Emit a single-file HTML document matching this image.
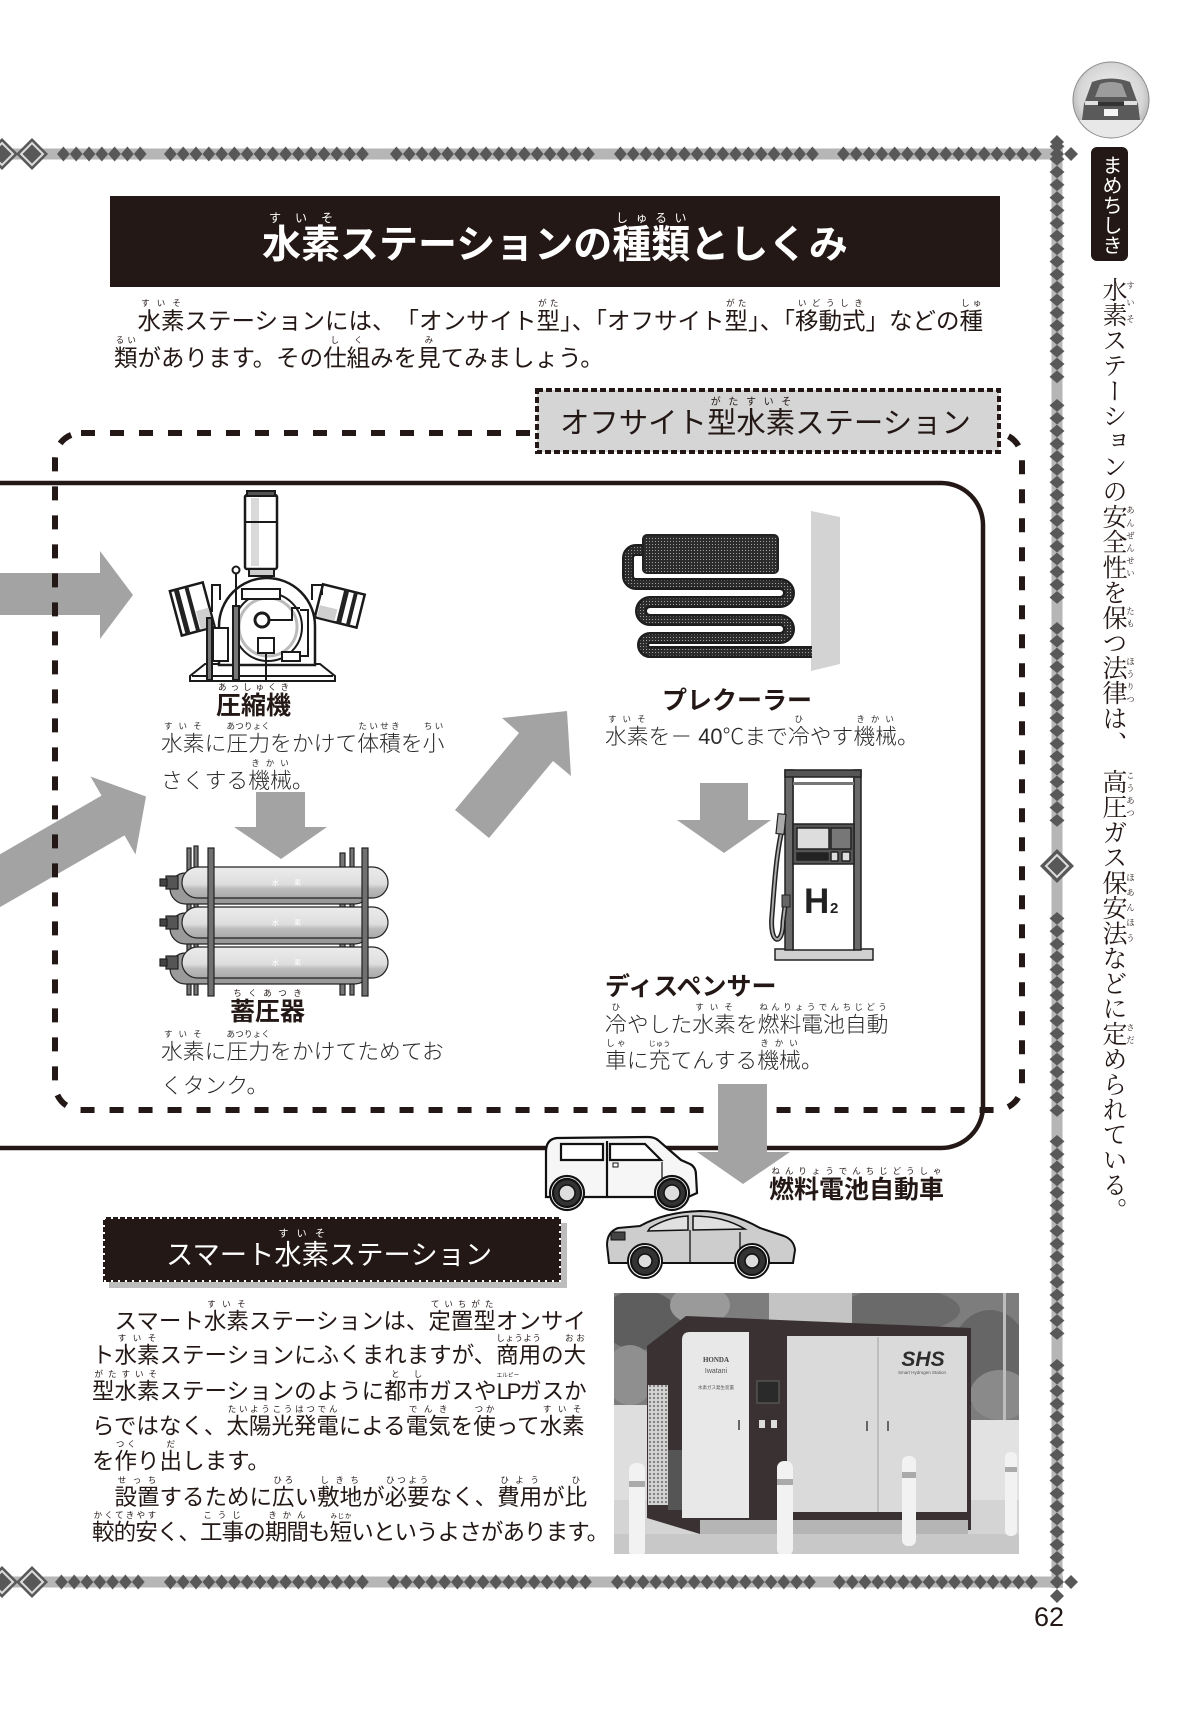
<!DOCTYPE html>
<html lang="ja">
<head>
<meta charset="utf-8">
<style>
html,body{margin:0;padding:0;background:#fff;}
#pg{position:relative;width:1182px;height:1733px;overflow:hidden;background:#fff;}
svg{position:absolute;left:0;top:0;}
.t{position:absolute;white-space:nowrap;font-family:"Liberation Sans","Noto Sans CJK JP",sans-serif;color:#231815;text-spacing-trim:space-all;text-autospace:no-autospace;}
.b{font-weight:bold;}
.l{font-weight:300;color:#2a2a2a;}
rt{font-size:8.5px;line-height:1;font-weight:normal;}
.v{position:absolute;writing-mode:vertical-rl;white-space:nowrap;text-spacing-trim:space-all;}
</style>
</head>
<body>
<div id="pg">
<svg width="1182" height="1733" viewBox="0 0 1182 1733" xmlns="http://www.w3.org/2000/svg">
<defs>
<pattern id="dt" patternUnits="userSpaceOnUse" x="0" y="146.5" width="12.8" height="15"><polygon points="6.4,0 12.8,7.5 6.4,15 0,7.5" fill="#585858"/></pattern>
<pattern id="db" patternUnits="userSpaceOnUse" x="0" y="1574.5" width="12.8" height="15"><polygon points="6.4,0 12.8,7.5 6.4,15 0,7.5" fill="#585858"/></pattern>
<pattern id="dv" patternUnits="userSpaceOnUse" x="1049.5" y="0" width="15" height="12.8"><polygon points="7.5,0 15,6.4 7.5,12.8 0,6.4" fill="#585858"/></pattern>
<pattern id="dots" patternUnits="userSpaceOnUse" width="3" height="3"><rect width="3" height="3" fill="#2c2c2c"/><rect x="1" y="1" width="1" height="1" fill="#a0a0a0"/></pattern>
<pattern id="mesh" patternUnits="userSpaceOnUse" width="4" height="4"><rect width="4" height="4" fill="#d2d2d2"/><circle cx="2" cy="2" r="1" fill="#6a6a6a"/></pattern>
<linearGradient id="tg" x1="0" y1="0" x2="0" y2="1"><stop offset="0" stop-color="#ececec"/><stop offset="0.55" stop-color="#dedede"/><stop offset="0.7" stop-color="#bcbcbc"/><stop offset="1" stop-color="#a8a8a8"/></linearGradient>
<radialGradient id="cg" cx="0.5" cy="0.45" r="0.6"><stop offset="0" stop-color="#f4f4f4"/><stop offset="0.7" stop-color="#d6d6d6"/><stop offset="1" stop-color="#a5a5a5"/></radialGradient>
<clipPath id="phc"><rect x="614" y="1293" width="405" height="261"/></clipPath>
<clipPath id="cc"><circle cx="1111" cy="100" r="38"/></clipPath>
</defs>

<!-- title box -->
<rect x="110" y="196" width="890" height="91" fill="#231815"/>

<!-- circle photo -->
<circle cx="1111" cy="100" r="38" fill="url(#cg)"/>
<g clip-path="url(#cc)">
<path d="M1084 104 L1092 82 Q1111 75 1130 82 L1138 104 L1140 120 L1082 120 Z" fill="#5a5a5a"/>
<path d="M1095 97 L1100 84 Q1111 80 1122 84 L1127 97 Z" fill="#9c9c9c"/>
<rect x="1085" y="101" width="13" height="4" fill="#e0e0e0"/>
<rect x="1124" y="101" width="13" height="4" fill="#e0e0e0"/>
<rect x="1098" y="102" width="26" height="4" fill="#333"/>
<rect x="1104" y="109" width="14" height="7" fill="#f4f4f4"/>
<rect x="1070" y="120" width="82" height="24" fill="#e8e8e8"/>
</g>
<circle cx="1111" cy="100" r="38" fill="none" stroke="#8a8a8a" stroke-width="1"/>
<!-- mamechishiki box -->
<rect x="1091" y="147" width="37" height="114" rx="6" fill="#231815"/>

<!-- solid rounded rect -->
<rect x="-40" y="483" width="1023" height="665" rx="42" fill="none" stroke="#231815" stroke-width="4.5"/>

<!-- left arrows -->
<polygon points="0,573 100,573 100,551 133,595 100,639 100,615 0,615" fill="#a3a3a3"/>
<polygon points="-10,860 101.5,795.6 90.5,776.5 146,796.5 135.5,854.5 124.5,835.4 -10,912.9" fill="#a3a3a3"/>

<!-- dashed rounded rect -->
<rect x="55" y="433" width="967" height="677" rx="26" fill="none" stroke="#231815" stroke-width="6" stroke-dasharray="14 15"/>

<!-- inner arrows -->
<polygon points="455,810 519,733 502,718 567,711 571,776 553,761 489,838" fill="#a3a3a3"/>
<polygon points="256,792 305,792 305,827 327,827 281,859 234,827 256,827" fill="#a3a3a3"/>
<polygon points="700,783 748,783 748,820 771,820 724,853 677,820 700,820" fill="#a3a3a3"/>

<!-- offsite label box -->
<rect x="537" y="390" width="462" height="62" fill="#d5d5d5" stroke="#231815" stroke-width="4" stroke-dasharray="6 3"/>

<!-- compressor -->
<g stroke="#1a1a1a" stroke-width="2" fill="#fff">
<path d="M190 681 L335 681 L335 676 L320 664 L205 664 L190 676 Z"/>
<line x1="192" y1="676" x2="333" y2="676"/>
<path d="M219 665 L219 626 A48 48 0 0 1 315 626 L315 665 Z" stroke-width="2.5"/>
<circle cx="268" cy="627" r="34"/>
<circle cx="268" cy="627" r="29" stroke="#bbb" stroke-width="3" fill="none"/>
<circle cx="262" cy="620" r="7" stroke-width="3"/>
<path d="M269 620 L292 620 L292 608 L300 608" fill="none"/>
<rect x="245" y="495" width="32" height="74" rx="2" stroke-width="2.5"/>
<rect x="251" y="498" width="8" height="68" fill="#d9d9d9" stroke="none"/>
<line x1="245" y1="522" x2="277" y2="522"/>
<rect x="247" y="491" width="28" height="5" fill="#555"/>
<rect x="249" y="569" width="25" height="7" fill="#ccc"/>
<rect x="242" y="589" width="38" height="10"/>
<g transform="rotate(-15 192 608)">
<rect x="175" y="586" width="34" height="46" stroke-width="2.5"/>
<rect x="179" y="586" width="5" height="46" fill="#222" stroke="none"/>
<rect x="190" y="586" width="4" height="46" fill="#222" stroke="none"/>
<rect x="195" y="612" width="13" height="19" fill="#cfcfcf" stroke="none"/>
</g>
<g transform="rotate(14 340 607)">
<rect x="318" y="589" width="43" height="34" stroke-width="2.5"/>
<rect x="340" y="589" width="5" height="34" fill="#222" stroke="none"/>
<rect x="350" y="589" width="4" height="34" fill="#222" stroke="none"/>
<rect x="320" y="610" width="18" height="12" fill="#cfcfcf" stroke="none"/>
</g>
<path d="M212 612 L212 585 L220 585 L220 600" fill="none"/>
<path d="M312 600 L312 585 L322 585 L322 595" fill="none"/>
<rect x="207" y="618" width="5" height="62" fill="#777"/>
<rect x="233" y="606" width="6" height="74" fill="#777"/>
<line x1="236" y1="573" x2="236" y2="606"/>
<circle cx="236" cy="570" r="3.5"/>
<rect x="213" y="628" width="15" height="33"/>
<rect x="258" y="638" width="16" height="15"/>
<line x1="266" y1="653" x2="266" y2="680"/>
<rect x="282" y="652" width="18" height="9"/>
<path d="M300 656 L308 656 L308 610 L300 610" fill="none"/>
</g>

<!-- tanks -->
<g stroke="#222" stroke-width="1.2">
<rect x="187" y="848" width="4" height="147" fill="#777"/>
<rect x="194" y="846" width="4" height="149" fill="#777"/>
<rect x="340" y="853" width="5" height="142" fill="#777"/>
<rect x="350" y="848" width="4" height="147" fill="#777"/>
<rect x="170" y="873" width="200" height="31" rx="15.5" fill="#9a9a9a"/>
<rect x="170" y="913" width="200" height="31" rx="15.5" fill="#9a9a9a"/>
<rect x="170" y="953" width="200" height="31" rx="15.5" fill="#9a9a9a"/>
<rect x="182" y="867" width="206" height="31" rx="15.5" fill="url(#tg)"/>
<rect x="182" y="907" width="206" height="31" rx="15.5" fill="url(#tg)"/>
<rect x="182" y="947" width="206" height="31" rx="15.5" fill="url(#tg)"/>
<rect x="166" y="876" width="12" height="13" fill="#555"/><rect x="160" y="879" width="7" height="7" fill="#444"/>
<rect x="166" y="916" width="12" height="13" fill="#555"/><rect x="160" y="919" width="7" height="7" fill="#444"/>
<rect x="166" y="956" width="12" height="13" fill="#555"/><rect x="160" y="959" width="7" height="7" fill="#444"/>
<rect x="208" y="848" width="6" height="148" fill="#707070"/>
<rect x="362" y="848" width="6" height="148" fill="#707070"/>
</g>
<g fill="#fff" font-family="Liberation Sans, Noto Sans CJK JP, sans-serif" font-size="7">
<text x="272" y="885">水</text><text x="294" y="885">素</text>
<text x="272" y="925">水</text><text x="294" y="925">素</text>
<text x="272" y="965">水</text><text x="294" y="965">素</text>
</g>

<!-- prechiller -->
<polygon points="811,511 840,517 840,664 811,671" fill="#d3d3d3"/>
<path d="M645 550 H636 a8 8 0 0 0 -8 8 V576 a8 8 0 0 0 8 8 H780 a9 9 0 0 1 0 18 H650 a9 9 0 0 0 0 18 H780 a9 9 0 0 1 0 18 H650 a7 7 0 0 0 0 14 H812" fill="none" stroke="#1e1e1e" stroke-width="12"/>
<path d="M645 550 H636 a8 8 0 0 0 -8 8 V576 a8 8 0 0 0 8 8 H780 a9 9 0 0 1 0 18 H650 a9 9 0 0 0 0 18 H780 a9 9 0 0 1 0 18 H650 a7 7 0 0 0 0 14 H812" fill="none" stroke="url(#dots)" stroke-width="7"/>
<rect x="643" y="535" width="135" height="38" rx="4" fill="url(#dots)" stroke="#222" stroke-width="2"/>

<!-- dispenser -->
<g stroke="#222" stroke-width="1.5">
<rect x="775" y="949" width="98" height="11" fill="#d0d0d0"/>
<rect x="793" y="775" width="61" height="175" fill="#fff"/>
<rect x="785" y="770" width="8" height="180" fill="#6a6a6a"/>
<rect x="854" y="770" width="7" height="180" fill="#6a6a6a"/>
<rect x="785" y="770" width="76" height="7" fill="#555"/>
<rect x="793" y="782" width="61" height="3" fill="#777" stroke="none"/>
<rect x="793" y="824" width="61" height="40" fill="#555"/>
<rect x="797" y="828" width="32" height="21" fill="#ddd"/>
<rect x="831" y="828" width="20" height="21" fill="#777"/>
<rect x="797" y="853" width="31" height="7" fill="#222"/>
<rect x="831" y="852" width="7" height="9" fill="#ddd" rx="1"/>
<rect x="842" y="852" width="8" height="9" fill="#ddd" rx="1"/>
</g>
<text x="804" y="913" font-family="Liberation Sans, sans-serif" font-weight="bold" font-size="35" fill="#222">H</text>
<text x="830" y="913" font-family="Liberation Sans, sans-serif" font-weight="bold" font-size="15" fill="#222">2</text>
<path d="M782 830 C776 855 774 890 772 915 C769 945 783 947 783 922 L786 898" fill="none" stroke="#222" stroke-width="5"/>
<path d="M782 830 C776 855 774 890 772 915 C769 945 783 947 783 922 L786 898" fill="none" stroke="#aaa" stroke-width="2"/>
<rect x="777" y="814" width="8" height="20" fill="#aaa" stroke="#222" stroke-width="1.2" transform="rotate(6 781 824)"/>
<rect x="782" y="895" width="8" height="12" fill="#666" stroke="#222" stroke-width="1"/>

<!-- arrow down to car (over lines) -->
<polygon points="718,1084 767,1084 767,1152 790,1152 743,1184 697,1152 718,1152" fill="#a3a3a3"/>

<!-- van -->
<g stroke="#111" stroke-width="2.2">
<path d="M546 1196 L546 1152 Q546 1139 557 1138 L648 1137 Q655 1137 659 1141 L681 1160 L690 1164 Q696 1167 696 1175 L697 1193 L688 1197 L546 1197 Z" fill="#f6f6f6"/>
<path d="M561 1144 L603 1144 L603 1160 L561 1160 Z" fill="#fff"/>
<path d="M610 1144 L645 1144 L661 1160 L610 1160 Z" fill="#fff"/>
<line x1="607" y1="1141" x2="607" y2="1196"/>
<line x1="662" y1="1162" x2="662" y2="1196" stroke-width="1.2"/>
<rect x="613" y="1163" width="5" height="4" fill="#fff" stroke-width="1"/>
<circle cx="567" cy="1193" r="17" fill="#fff"/>
<circle cx="672" cy="1193" r="17" fill="#fff"/>
<circle cx="567" cy="1193" r="14" fill="#333"/>
<circle cx="672" cy="1193" r="14" fill="#333"/>
<circle cx="567" cy="1193" r="8" fill="#ddd" stroke-width="1.5"/>
<circle cx="672" cy="1193" r="8" fill="#ddd" stroke-width="1.5"/>
</g>
<!-- sedan -->
<g stroke="#111" stroke-width="2">
<path d="M609 1263 L607 1245 Q607 1232 618 1228 L640 1226 Q665 1212 700 1211 Q730 1211 760 1228 L784 1236 Q794 1240 795 1250 L793 1263 Z" fill="#cdcdcd"/>
<path d="M650 1228 Q668 1217 688 1216 L688 1230 L648 1231 Z" fill="#e0e0e0" stroke-width="1.5"/>
<path d="M693 1216 Q723 1216 745 1229 L693 1230 Z" fill="#e0e0e0" stroke-width="1.5"/>
<line x1="690" y1="1230" x2="690" y2="1262" stroke-width="1.3"/>
<line x1="740" y1="1232" x2="740" y2="1262" stroke-width="1.3"/>
<rect x="611" y="1232" width="14" height="8" fill="#444" stroke-width="1"/>
<circle cx="645" cy="1261" r="17" fill="#fff"/>
<circle cx="752" cy="1261" r="17" fill="#fff"/>
<circle cx="645" cy="1261" r="14" fill="#333"/>
<circle cx="752" cy="1261" r="14" fill="#333"/>
<circle cx="645" cy="1261" r="7" fill="#ddd" stroke-width="1.5"/>
<circle cx="752" cy="1261" r="7" fill="#ddd" stroke-width="1.5"/>
</g>

<!-- smart station label -->
<rect x="109" y="1223" width="458" height="65" fill="#bdbdbd"/>
<rect x="103" y="1217" width="458" height="65" fill="#231815"/>
<rect x="104" y="1218" width="456" height="63" fill="none" stroke="#fff" stroke-width="2" stroke-dasharray="2 5"/>

<!-- photo -->
<g clip-path="url(#phc)">
<rect x="614" y="1293" width="405" height="261" fill="#7d7d7d"/>
<ellipse cx="640" cy="1320" rx="40" ry="30" fill="#5e5e5e"/>
<ellipse cx="700" cy="1305" rx="30" ry="20" fill="#9a9a9a"/>
<ellipse cx="630" cy="1375" rx="25" ry="30" fill="#8f8f8f"/>
<ellipse cx="900" cy="1310" rx="60" ry="22" fill="#6a6a6a"/>
<ellipse cx="990" cy="1360" rx="40" ry="50" fill="#666"/>
<ellipse cx="1000" cy="1395" rx="30" ry="25" fill="#8a8a8a"/>
<rect x="769" y="1293" width="83" height="30" fill="#c4c4c4"/>
<rect x="1003" y="1293" width="3" height="160" fill="#bdbdbd"/>
<rect x="614" y="1405" width="72" height="100" fill="#dedede"/>
<rect x="968" y="1420" width="51" height="115" fill="#e2e2e2"/>
<rect x="614" y="1500" width="405" height="54" fill="#d4d4d4"/>
<rect x="614" y="1534" width="405" height="20" fill="#c8c8c8"/>
<path d="M647 1346 L686 1316 L971 1328 L971 1530 L700 1534 L647 1518 Z" fill="#3a3232"/>
<rect x="700" y="1520" width="268" height="14" fill="#b5b5b5"/>
<path d="M682 1340 Q682 1332 690 1332 L749 1332 L749 1518 L682 1518 Z" fill="#e8e8e8"/>
<rect x="648" y="1385" width="20" height="120" fill="url(#mesh)"/>
<rect x="668" y="1450" width="14" height="60" fill="#555"/>
<rect x="757" y="1381" width="22" height="22" fill="#2a2a2a" stroke="#666" stroke-width="1"/>
<rect x="759" y="1420" width="6" height="8" fill="#ddd"/>
<rect x="771" y="1420" width="6" height="8" fill="#ddd"/>
<rect x="787" y="1336" width="180" height="176" fill="#dadada"/>
<line x1="878" y1="1337" x2="878" y2="1512" stroke="#a0a0a0" stroke-width="1"/>
<rect x="866" y="1421" width="2" height="10" fill="#666"/>
<rect x="887" y="1421" width="2" height="10" fill="#666"/>
<rect x="738" y="1420" width="2" height="10" fill="#666"/>
<text x="923" y="1366" font-family="Liberation Sans, sans-serif" font-weight="bold" font-style="italic" font-size="21" fill="#2d2d2d" text-anchor="middle">SHS</text>
<text x="922" y="1374" font-family="Liberation Sans, sans-serif" font-size="4.5" fill="#555" text-anchor="middle">Smart Hydrogen Station</text>
<text x="716" y="1362" font-family="Liberation Serif, serif" font-weight="bold" font-size="7" fill="#444" text-anchor="middle">HONDA</text>
<text x="716" y="1373" font-family="Liberation Sans, sans-serif" font-size="7" fill="#555" text-anchor="middle">Iwatani</text>
<text x="716" y="1389" font-family="Liberation Sans, Noto Sans CJK JP, sans-serif" font-size="4.5" fill="#555" text-anchor="middle">水素ガス発生装置</text>
<rect x="629" y="1463" width="16" height="95" rx="7" fill="#f2f2f2"/><rect x="629" y="1481" width="16" height="6" fill="#aaa"/>
<rect x="777" y="1461" width="16" height="95" rx="7" fill="#f2f2f2"/><rect x="777" y="1479" width="16" height="6" fill="#aaa"/>
<rect x="902" y="1456" width="14" height="90" rx="6" fill="#f2f2f2"/><rect x="902" y="1472" width="14" height="6" fill="#aaa"/>
<rect x="1005" y="1452" width="12" height="84" rx="5" fill="#f2f2f2"/><rect x="1005" y="1467" width="12" height="5" fill="#aaa"/>
</g>

<!-- borders -->
<rect x="0" y="148.5" width="1063" height="11" fill="#b6b6b6"/>
<rect x="0" y="1576.5" width="1063" height="11" fill="#b6b6b6"/>
<rect x="1051.5" y="148" width="11" height="1440" fill="#b6b6b6"/>
<rect x="0" y="146.5" width="89.6" height="15" fill="url(#dt)" transform="translate(57,0)"/>
<rect x="0" y="146.5" width="204.8" height="15" fill="url(#dt)" transform="translate(164,0)"/>
<rect x="0" y="146.5" width="204.8" height="15" fill="url(#dt)" transform="translate(390,0)"/>
<rect x="0" y="146.5" width="204.8" height="15" fill="url(#dt)" transform="translate(614,0)"/>
<rect x="0" y="146.5" width="204.8" height="15" fill="url(#dt)" transform="translate(837,0)"/>
<rect x="0" y="1574.5" width="89.6" height="15" fill="url(#db)" transform="translate(55,0)"/>
<rect x="0" y="1574.5" width="204.8" height="15" fill="url(#db)" transform="translate(164,0)"/>
<rect x="0" y="1574.5" width="204.8" height="15" fill="url(#db)" transform="translate(387,0)"/>
<rect x="0" y="1574.5" width="204.8" height="15" fill="url(#db)" transform="translate(611,0)"/>
<rect x="0" y="1574.5" width="204.8" height="15" fill="url(#db)" transform="translate(833,0)"/>
<rect x="1049.5" y="0" width="15" height="243.2" fill="url(#dv)" transform="translate(0,140)"/>
<rect x="1049.5" y="0" width="15" height="204.8" fill="url(#dv)" transform="translate(0,399)"/>
<rect x="1049.5" y="0" width="15" height="204.8" fill="url(#dv)" transform="translate(0,622)"/>
<rect x="1049.5" y="0" width="15" height="204.8" fill="url(#dv)" transform="translate(0,912)"/>
<rect x="1049.5" y="0" width="15" height="204.8" fill="url(#dv)" transform="translate(0,1135)"/>
<rect x="1049.5" y="0" width="15" height="217.6" fill="url(#dv)" transform="translate(0,1359)"/>
<g fill="#585858">
<polygon points="1057,135 1064,142 1057,149 1050,142"/>
<polygon points="1057,147 1064,154 1057,161 1050,154"/>
<polygon points="1071,147 1078,154 1071,161 1064,154"/>
<polygon points="1057,1575 1064,1582 1057,1589 1050,1582"/>
<polygon points="1071,1575 1078,1582 1071,1589 1064,1582"/>
<polygon points="1057,1589 1064,1596 1057,1603 1050,1596"/>
</g>
<g>
<polygon points="2,138 18,154 2,170 -14,154" fill="#585858"/>
<polygon points="2,143 13,154 2,165 -9,154" fill="none" stroke="#ddd" stroke-width="2"/>
<polygon points="32,138 48,154 32,170 16,154" fill="#585858"/>
<polygon points="32,143 43,154 32,165 21,154" fill="none" stroke="#ddd" stroke-width="2"/>
<polygon points="2,1566 18,1582 2,1598 -14,1582" fill="#585858"/>
<polygon points="2,1571 13,1582 2,1593 -9,1582" fill="none" stroke="#ddd" stroke-width="2"/>
<polygon points="32,1566 48,1582 32,1598 16,1582" fill="#585858"/>
<polygon points="32,1571 43,1582 32,1593 21,1582" fill="none" stroke="#ddd" stroke-width="2"/>
<polygon points="1057,849 1074,866 1057,883 1040,866" fill="#585858"/>
<polygon points="1057,855 1068,866 1057,877 1046,866" fill="none" stroke="#ddd" stroke-width="2"/>
</g>
</svg>

<!-- title -->
<div class="t b" style="left:262px;top:207px;font-size:39px;line-height:78px;color:#fff;"><ruby>水素<rt style="font-size:12px">すいそ</rt></ruby>ステーションの<ruby>種類<rt style="font-size:12px">しゅるい</rt></ruby>としくみ</div>

<!-- intro -->
<div class="t" style="left:114px;top:298px;font-size:23.5px;line-height:47px;">　<ruby>水素<rt>すいそ</rt></ruby>ステーションには、「オンサイト<ruby>型<rt>がた</rt></ruby><span style="letter-spacing:-11.75px">」、</span>「オフサイト<ruby>型<rt>がた</rt></ruby><span style="letter-spacing:-11.75px">」、</span>「<ruby>移動式<rt>いどうしき</rt></ruby>」などの<ruby>種<rt>しゅ</rt></ruby></div>
<div class="t" style="left:114px;top:335px;font-size:23.5px;line-height:47px;"><ruby>類<rt>るい</rt></ruby>があります。その<ruby>仕組<rt>しく</rt></ruby>みを<ruby>見<rt>み</rt></ruby>てみましょう。</div>

<!-- offsite label -->
<div class="t" style="left:560px;top:395px;font-size:29.4px;line-height:58px;"><span>オフサイト</span><ruby>型水素<rt style="font-size:10px">がたすいそ</rt></ruby>ステーション</div>

<!-- compressor -->
<div class="t b" style="left:216px;top:682px;font-size:25px;line-height:48px;"><ruby>圧縮機<rt>あっしゅくき</rt></ruby></div>
<div class="t l" style="left:161px;top:721px;font-size:21.8px;line-height:44px;"><ruby>水素<rt>すいそ</rt></ruby>に<ruby>圧力<rt>あつりょく</rt></ruby>をかけて<ruby>体積<rt>たいせき</rt></ruby>を<ruby>小<rt>ちい</rt></ruby></div>
<div class="t l" style="left:161px;top:758px;font-size:21.8px;line-height:44px;">さくする<ruby>機械<rt>きかい</rt></ruby>。</div>

<!-- tank -->
<div class="t b" style="left:230px;top:988px;font-size:25px;line-height:48px;"><ruby>蓄圧器<rt>ちくあつき</rt></ruby></div>
<div class="t l" style="left:161px;top:1029px;font-size:21.8px;line-height:44px;"><ruby>水素<rt>すいそ</rt></ruby>に<ruby>圧力<rt>あつりょく</rt></ruby>をかけてためてお</div>
<div class="t l" style="left:161px;top:1064px;font-size:21.8px;line-height:44px;">くタンク。</div>

<!-- prechiller -->
<div class="t b" style="left:662px;top:677px;font-size:25px;line-height:48px;">プレクーラー</div>
<div class="t l" style="left:605px;top:714px;font-size:21.8px;line-height:44px;"><ruby>水素<rt>すいそ</rt></ruby>を－ 40℃まで<ruby>冷<rt>ひ</rt></ruby>やす<ruby>機械<rt>きかい</rt></ruby>。</div>

<!-- dispenser -->
<div class="t b" style="left:605px;top:963px;font-size:25px;line-height:48px;">ディスペンサー</div>
<div class="t l" style="left:605px;top:1002px;font-size:21.8px;line-height:44px;"><ruby>冷<rt>ひ</rt></ruby>やした<ruby>水素<rt>すいそ</rt></ruby>を<ruby>燃料電池自動<rt>ねんりょうでんちじどう</rt></ruby></div>
<div class="t l" style="left:605px;top:1038px;font-size:21.8px;line-height:44px;"><ruby>車<rt>しゃ</rt></ruby>に<ruby>充<rt style="font-size:7px">じゅう</rt></ruby>てんする<ruby>機械<rt>きかい</rt></ruby>。</div>

<!-- FCV -->
<div class="t b" style="left:769px;top:1166px;font-size:25px;line-height:48px;"><ruby>燃料電池自動車<rt>ねんりょうでんちじどうしゃ</rt></ruby></div>

<!-- smart label -->
<div class="t" style="left:166px;top:1229px;font-size:27.3px;line-height:52px;color:#fff;">スマート<ruby>水素<rt style="font-size:10px">すいそ</rt></ruby>ステーション</div>

<!-- smart paragraph -->
<div class="t" style="left:92px;top:1299px;font-size:22.5px;line-height:44px;">　スマート<ruby>水素<rt>すいそ</rt></ruby>ステーションは、<ruby>定置型<rt>ていちがた</rt></ruby>オンサイ</div>
<div class="t" style="left:92px;top:1333px;font-size:22.5px;line-height:44px;">ト<ruby>水素<rt>すいそ</rt></ruby>ステーションにふくまれますが、<ruby>商用<rt>しょうよう</rt></ruby>の<ruby>大<rt>おお</rt></ruby></div>
<div class="t" style="left:92px;top:1369px;font-size:22.5px;line-height:44px;"><ruby>型水素<rt>がたすいそ</rt></ruby>ステーションのように<ruby>都市<rt>とし</rt></ruby>ガスや<ruby><span style="letter-spacing:-2.5px">LP</span><rt style="font-size:5.5px;letter-spacing:0">エルピー</rt></ruby>ガスか</div>
<div class="t" style="left:92px;top:1404px;font-size:22.5px;line-height:44px;">らではなく、<ruby>太陽光発電<rt>たいようこうはつでん</rt></ruby>による<ruby>電気<rt>でんき</rt></ruby>を<ruby>使<rt>つか</rt></ruby>って<ruby>水素<rt>すいそ</rt></ruby></div>
<div class="t" style="left:92px;top:1439px;font-size:22.5px;line-height:44px;">を<ruby>作<rt>つく</rt></ruby>り<ruby>出<rt>だ</rt></ruby>します。</div>
<div class="t" style="left:92px;top:1475px;font-size:22.5px;line-height:44px;">　<ruby>設置<rt>せっち</rt></ruby>するために<ruby>広<rt>ひろ</rt></ruby>い<ruby>敷地<rt>しきち</rt></ruby>が<ruby>必要<rt>ひつよう</rt></ruby>なく、<ruby>費用<rt>ひよう</rt></ruby>が<ruby>比<rt>ひ</rt></ruby></div>
<div class="t" style="left:92px;top:1510px;font-size:22.5px;line-height:44px;letter-spacing:-0.9px;"><ruby>較的安<rt>かくてきやす</rt></ruby>く、<ruby>工事<rt>こうじ</rt></ruby>の<ruby>期間<rt>きかん</rt></ruby>も<ruby>短<rt style="font-size:6.5px">みじか</rt></ruby>いというよさがあります。</div>

<!-- side column -->
<div class="v" style="left:1096px;top:155px;font-family:'Liberation Sans','Noto Sans CJK JP',sans-serif;font-size:20px;line-height:28px;color:#fff;">まめちしき</div>
<div class="v" style="left:1087px;top:277px;font-family:'Liberation Serif','Noto Serif CJK SC',serif;font-size:25px;line-height:50px;letter-spacing:0.2px;color:#231815;"><ruby>水素<rt>すいそ</rt></ruby>ステーションの<ruby>安全性<rt>あんぜんせい</rt></ruby>を<ruby>保<rt>たも</rt></ruby>つ<ruby>法律<rt>ほうりつ</rt></ruby>は<span style="margin-inline-end:13px">、</span><ruby>高圧<rt>こうあつ</rt></ruby>ガス<ruby>保安法<rt>ほあんほう</rt></ruby>などに<ruby>定<rt>さだ</rt></ruby>められている。</div>

<!-- page number -->
<div class="t" style="right:118px;top:1604px;font-size:27px;line-height:27px;">62</div>
</div>
</body>
</html>
